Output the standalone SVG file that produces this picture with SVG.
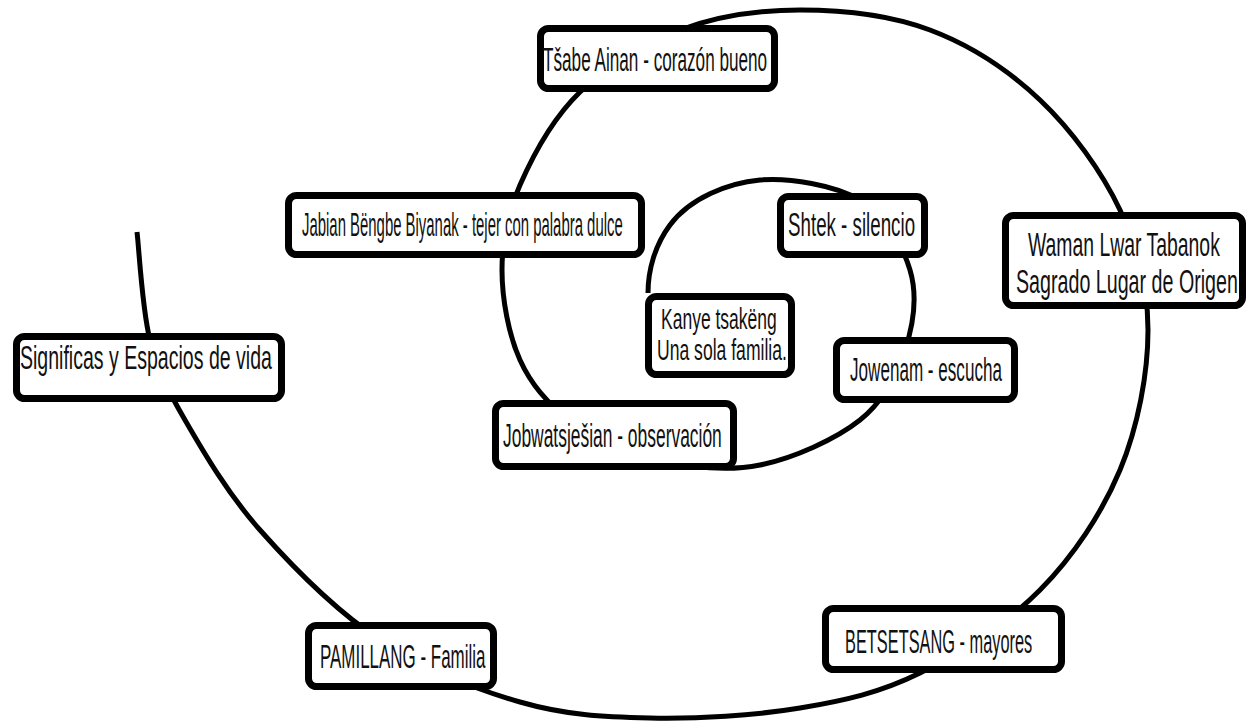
<svg xmlns="http://www.w3.org/2000/svg" width="1248" height="723" viewBox="0 0 1248 723">
<style>
.spiral{fill:none;stroke:#000;stroke-width:5;stroke-linecap:butt}
.box{fill:#fff;stroke:#000;stroke-width:7}
.lbl{font-family:"Liberation Sans",Arial,sans-serif;font-size:33px;fill:#111}
.sm{font-size:30px}
</style>
<rect width="1248" height="723" fill="#fff"/>
<g id="connectors">
<path class="spiral" d="M137,232 C139.2,250 142,308.7 150,340 C158,371.3 166.7,388.3 185,420 C203.3,451.7 227.5,493.3 260,530 C292.5,566.7 336.7,611.3 380,640 C423.3,668.7 475,689 520,702 C565,715 603.3,717 650,718 C696.7,719 755,715.5 800,708 C845,700.5 880,692.7 920,673 C960,653.3 1006.7,623.8 1040,590 C1073.3,556.2 1102,513.3 1120,470 C1138,426.7 1148,373.3 1148,330 C1148,286.7 1138,248.3 1120,210 C1102,171.7 1071.7,130 1040,100 C1008.3,70 970,45 930,30 C890,15 841.7,10 800,10 C758.3,10 716.7,16.3 680,30 C643.3,43.7 606.7,66.2 580,92 C553.3,117.8 533,155.3 520,185 C507,214.7 502,240.8 502,270 C502,299.2 508.7,335 520,360 C531.3,385 546.7,403.3 570,420 C593.3,436.7 628.3,452.5 660,460 C691.7,467.5 726.7,471.7 760,465 C793.3,458.3 835.8,439.2 860,420 C884.2,400.8 896.7,375 905,350 C913.3,325 917.5,295 910,270 C902.5,245 885,215 860,200 C835,185 789.2,177.5 760,180 C728,183 690,198 670,225 C655,245 648,270 648,293"/>
</g>
<g id="node-tsabe"><rect class="box" x="540.5" y="28.5" width="234" height="60" rx="8"/><text class="lbl" transform="translate(543,71) scale(0.52,1)">Tšabe Ainan - corazón bueno</text></g>
<g id="node-jabian"><rect class="box" x="288.5" y="195.5" width="353" height="59" rx="8"/><text class="lbl" transform="translate(302,236) scale(0.452,1)">Jabian Bëngbe Biyanak - tejer con palabra dulce</text></g>
<g id="node-shtek"><rect class="box" x="780.5" y="196.5" width="144" height="58" rx="8"/><text class="lbl" transform="translate(788,236) scale(0.568,1)">Shtek - silencio</text></g>
<g id="node-waman"><rect class="box" x="1005.5" y="215.5" width="237" height="90" rx="8"/><text class="lbl" transform="translate(1028,256) scale(0.588,1)">Waman Lwar Tabanok</text><text class="lbl" transform="translate(1016,293) scale(0.596,1)">Sagrado Lugar de Origen</text></g>
<g id="node-kanye"><rect class="box" x="648.5" y="296.5" width="143" height="78" rx="8"/><text class="lbl sm" transform="translate(661,329) scale(0.584,1)">Kanye tsakëng</text><text class="lbl sm" transform="translate(657,360) scale(0.586,1)">Una sola familia.</text></g>
<g id="node-jowenam"><rect class="box" x="836.5" y="340.5" width="178" height="59" rx="8"/><text class="lbl" transform="translate(850,381) scale(0.518,1)">Jowenam - escucha</text></g>
<g id="node-significas"><rect class="box" x="16.5" y="336.5" width="265" height="62" rx="8"/><text class="lbl" transform="translate(20,369) scale(0.592,1)">Significas y Espacios de vida</text></g>
<g id="node-jobwats"><rect class="box" x="495.5" y="403.5" width="238" height="63" rx="8"/><text class="lbl" transform="translate(503,447) scale(0.528,1)">Jobwatsješian - observación</text></g>
<g id="node-pamillang"><rect class="box" x="308.5" y="625.5" width="185" height="61" rx="8"/><text class="lbl" transform="translate(320,668) scale(0.514,1)">PAMILLANG - Familia</text></g>
<g id="node-betsetsang"><rect class="box" x="825.5" y="608.5" width="236" height="61" rx="8"/><text class="lbl" transform="translate(845,653) scale(0.496,1)">BETSETSANG - mayores</text></g>
</svg>
